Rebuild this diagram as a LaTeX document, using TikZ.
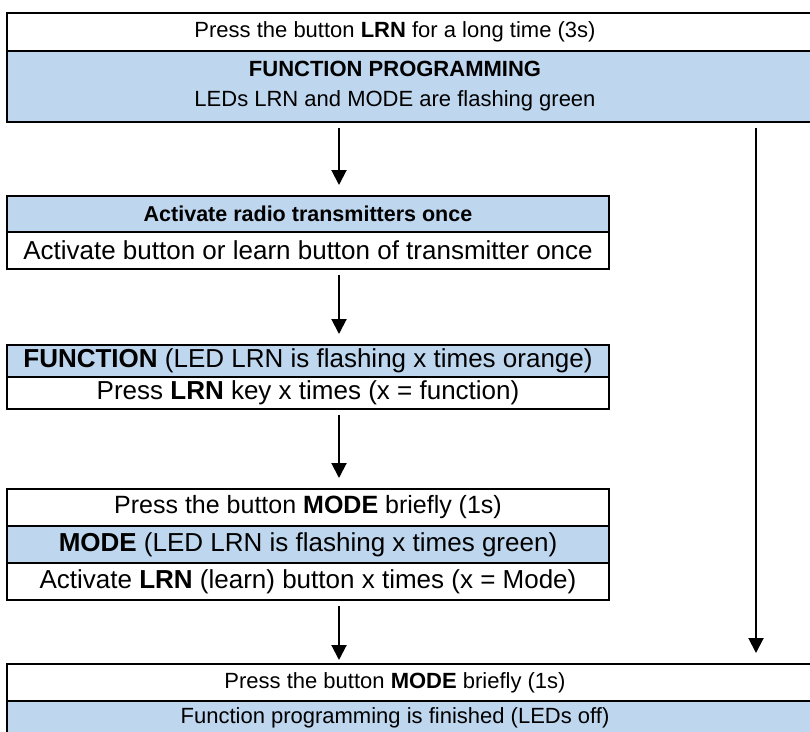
\documentclass[tikz,border=0pt]{standalone}
\usepackage{fontspec}
\setmainfont{Liberation Sans}
\usetikzlibrary{arrows.meta,positioning}
\definecolor{rowblue}{RGB}{190,214,238}

\begin{document}
\begin{tikzpicture}[x=1pt,y=-1pt,
    row/.style={draw, line width=2pt, inner sep=0pt, outer sep=0pt,
      minimum height=37pt, align=center, fs=26},
    whiterow/.style={row, fill=white},
    bluerow/.style={row, fill=rowblue},
    fs/.style={font=\fontsize{#1}{30}\selectfont},
    txt/.style={fs=22, align=center, inner sep=0pt},
    arr/.style={line width=2pt, -{Triangle[width=15pt,length=15pt]},
      shorten <=6pt, shorten >=11pt}]
    \useasboundingbox (0,0) rectangle (810,731);
    \clip (0,0) rectangle (810,731);

    % Columns for text and arrows
    \coordinate (tx) at (395,0);
    \coordinate (lx) at (339,0);
    \coordinate (rx) at (756,0);

    % Start: function programming
    \node[whiterow, minimum width=813pt, minimum height=38pt, anchor=north west] (press) at (7,13) {};
    \node[bluerow, minimum width=813pt, minimum height=71pt, below=0pt of press] (prog) {};
    \node[txt] (pressT) at (press.center -| tx) {Press the button \textbf{LRN} for a long time (3s)};
    \node[txt] (progT) at (prog.center -| tx) {\textbf{FUNCTION PROGRAMMING}\\LEDs LRN and MODE are flashing green};

    % Radio transmitters
    \node[bluerow, fs=21.5, minimum width=602pt, minimum height=36pt, anchor=north west] (radio) at (7,196)
        {\textbf{Activate radio transmitters once}};
    \node[whiterow, minimum width=602pt, below=0pt of radio] (radioB)
        {Activate button or learn button of transmitter once};

    % Function
    \node[bluerow, minimum width=602pt, minimum height=32pt, anchor=north west] (func) at (7,345)
        {\textbf{FUNCTION} (LED LRN is flashing x times orange)};
    \node[whiterow, minimum width=602pt, minimum height=32pt, below=0pt of func] (funcB)
        {Press \textbf{LRN} key x times (x = function)};

    % Mode
    \node[whiterow, fs=25, minimum width=602pt, anchor=north west] (mode) at (7,489)
        {Press the button \textbf{MODE} briefly (1s)};
    \node[bluerow, minimum width=602pt, below=0pt of mode] (modeB)
        {\textbf{MODE} (LED LRN is flashing x times green)};
    \node[whiterow, minimum width=602pt, below=0pt of modeB] (modeC)
        {Activate \textbf{LRN} (learn) button x times (x = Mode)};

    % End
    \node[whiterow, minimum width=813pt, anchor=north west] (done) at (7,664) {};
    \node[bluerow, minimum width=813pt, minimum height=50pt, below=0pt of done] (doneB) {};
    \node[txt] (doneT) at (done.center -| tx) {Press the button \textbf{MODE} briefly (1s)};
    \node[txt] (doneBT) at ([yshift=-6pt]doneB.north -| tx) [anchor=north] {Function programming is finished (LEDs off)};

    % Arrows
    \draw[arr] (prog.south -| lx) -- (radio.north -| lx);
    \draw[arr] (radioB.south -| lx) -- (func.north -| lx);
    \draw[arr] (funcB.south -| lx) -- (mode.north -| lx);
    \draw[arr, shorten >=4pt] (modeC.south -| lx) -- (done.north -| lx);
    \draw[arr] (prog.south -| rx) -- (done.north -| rx);
\end{tikzpicture}
\end{document}
